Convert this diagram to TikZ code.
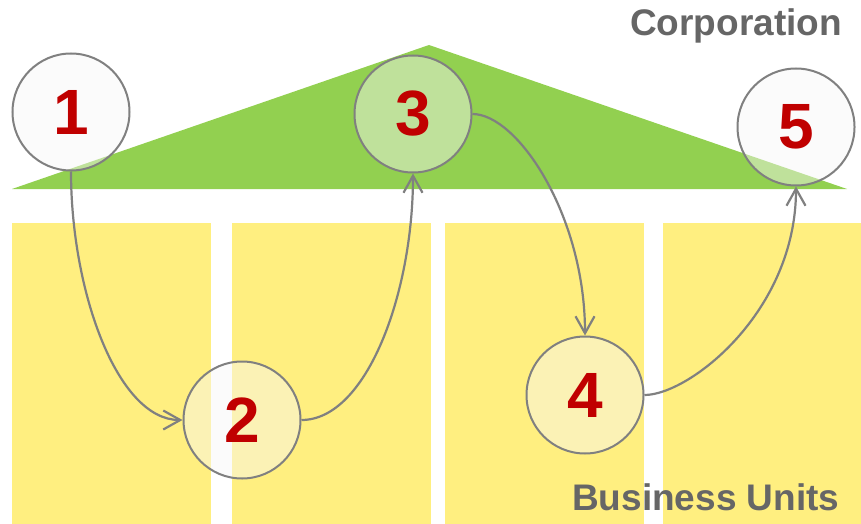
\documentclass[tikz,border=0pt]{standalone}
\usepackage{fontspec}
\setmainfont{Liberation Sans}
\usetikzlibrary{arrows.meta}
\definecolor{roofgreen}{RGB}{146,208,80}
\definecolor{colyellow}{RGB}{255,239,128}
\definecolor{numred}{RGB}{192,0,0}
\definecolor{linegray}{RGB}{128,128,128}
\definecolor{labelgray}{RGB}{102,102,102}
\tikzset{
  stepcircle/.style={circle, draw=linegray, line width=2pt, fill=gray!6, fill opacity=0.45, text opacity=1,
    minimum size=117pt, inner sep=0pt, text=numred, font=\fontsize{64}{64}\selectfont\bfseries},
  flow/.style={draw=linegray, line width=2.2pt, -{Straight Barb[length=17pt,width=19pt,line width=2.2pt]}},
  column/.style={fill=colyellow, draw=none},
  biglabel/.style={text=labelgray, font=\fontsize{37}{37}\selectfont\bfseries, inner sep=0pt, anchor=base west}
}
\begin{document}
\begin{tikzpicture}[x=1pt,y=-1pt]
\useasboundingbox (0,0) rectangle (861,524);
\fill[white] (0,0) rectangle (861,524);
% roof
\fill[roofgreen] (12,189) -- (429,45) -- (847,189) -- cycle;
% columns
\fill[column] (12,223) rectangle (211,524);
\fill[column] (232,223) rectangle (431,524);
\fill[column] (445,223) rectangle (644,524);
\fill[column] (663,223) rectangle (861,524);
% labels
\node[biglabel] (corp) at (630,36) {Corporation};
\node[biglabel] (bu) at (572,510) {Business Units};
% circles
\node[stepcircle] (c1) at (71,112) {1};
\node[stepcircle] (c2) at (242,420) {2};
\node[stepcircle] (c3) at (413,114) {3};
\node[stepcircle] (c4) at (585,395) {4};
\node[stepcircle] (c5) at (796,127) {5};
% connectors
\draw[flow] (c1.south) .. controls +(0,120) and +(-65,0) .. (c2.west);
\draw[flow] (c2.east) .. controls +(65,0) and +(0,120) .. (c3.south);
\draw[flow] (c3.east) .. controls +(45,0) and +(0,-120) .. (c4.north);
\draw[flow] (c4.east) .. controls +(45,0) and +(0,125) .. (c5.south);
\end{tikzpicture}
\end{document}
